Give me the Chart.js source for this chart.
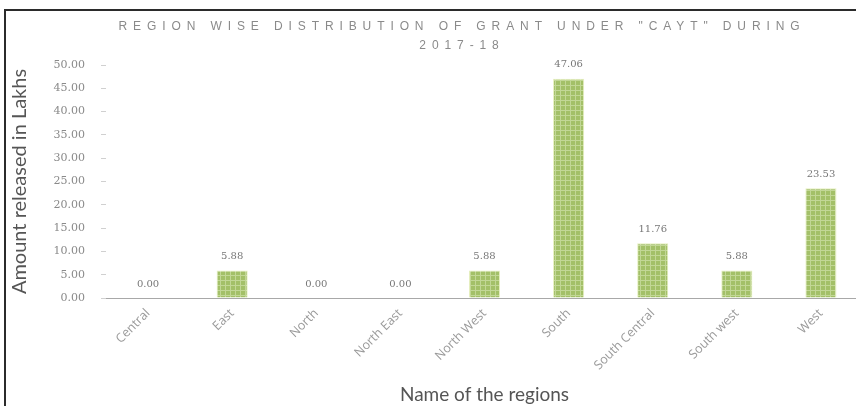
<!DOCTYPE html>
<html>
<head>
<meta charset="utf-8">
<script src="https://cdn.jsdelivr.net/npm/chart.js@4"></script>
<style>
html,body{margin:0;padding:0;background:#fff;overflow:hidden}
#wrap{position:relative;width:856px;height:406px;overflow:hidden}
#frame{position:absolute;left:4px;top:9px;width:900px;height:420px;border:2px solid #2b2b2b}
#c{position:absolute;left:0;top:0}
</style>
</head>
<body>
<div id="wrap">
  <div id="frame"></div>
  <canvas id="c" width="880" height="406"></canvas>
</div>
<script>
// ── data ──
const regions=['Central','East','North','North East','North West','South','South Central','South west','West'];
const amounts=[0.00,5.88,0.00,0.00,5.88,47.06,11.76,5.88,23.53];
const yTicks=[0,5,10,15,20,25,30,35,40,45,50];
const titleLines=['REGION WISE DISTRIBUTION OF GRANT UNDER "CAYT" DURING','2017-18'];

// small grid texture like the excel fill
function barPattern(){
  const p=document.createElement('canvas');p.width=5;p.height=5;
  const g=p.getContext('2d');
  g.fillStyle='#a3c068';g.fillRect(0,0,5,5);
  g.fillStyle='#c2d796';g.fillRect(0,0,5,1);g.fillRect(0,0,1,5);
  return g.createPattern(p,'repeat');
}

// title with letter spacing (Chart.js title has no letterSpacing option)
const spacedTitle={
  id:'spacedTitle',
  afterDraw(chart,args,opts){
    const ctx=chart.ctx;
    ctx.save();
    ctx.font='12px "Liberation Sans", Arial, sans-serif';
    ctx.fillStyle='#8a8a8a';
    ctx.textAlign='center';ctx.textBaseline='middle';
    try{ctx.letterSpacing='5.9px';}catch(e){}
    opts.lines.forEach((t,i)=>ctx.fillText(t,opts.x,opts.y+i*19));
    ctx.restore();
  }
};

// value labels above each bar
const valueLabels={
  id:'valueLabels',
  afterDatasetsDraw(chart){
    const ctx=chart.ctx;
    ctx.save();
    ctx.font='10px "DejaVu Serif", serif';
    ctx.fillStyle='#777';
    ctx.textAlign='center';ctx.textBaseline='middle';
    chart.getDatasetMeta(0).data.forEach((bar,i)=>{
      ctx.fillText(amounts[i].toFixed(2),bar.x,bar.y-14);
    });
    ctx.restore();
  }
};

new Chart(document.getElementById('c'),{
  type:'bar',
  data:{labels:regions,datasets:[{
    data:amounts,
    backgroundColor:barPattern(),
    borderColor:'rgba(228,238,185,0.9)',
    borderWidth:1,
    barPercentage:0.37,
    categoryPercentage:1
  }]},
  options:{
    responsive:false,
    animation:false,
    layout:{padding:{top:65,right:17,left:0,bottom:0}},
    plugins:{
      legend:{display:false},
      tooltip:{enabled:false},
      spacedTitle:{lines:titleLines,x:462,y:27}
    },
    scales:{
      x:{
        grid:{display:false},
        border:{display:true,color:'#a8a8a8',width:1},
        ticks:{color:'#9a9a9a',font:{size:12.5,family:'"Open Sans", sans-serif'},maxRotation:45,minRotation:45,autoSkip:false,padding:0},
        title:{display:true,text:'Name of the regions',color:'#555',font:{size:19,family:'Lato, "Open Sans", sans-serif'},padding:{top:0,bottom:0}},
        afterFit:s=>{s.height=108;}
      },
      y:{
        min:0,max:50,
        afterBuildTicks:s=>{s.ticks=yTicks.map(v=>({value:v}));},
        border:{display:false},
        grid:{drawOnChartArea:false,drawTicks:true,tickLength:5,tickColor:'#d0d0d0'},
        ticks:{color:'#8a8a8a',font:{size:11,family:'"DejaVu Serif", serif'},padding:16,callback:v=>v.toFixed(2)},
        title:{display:true,text:'Amount released in Lakhs',color:'#555',font:{size:20,family:'Lato, "Open Sans", sans-serif'},padding:{top:8,bottom:0}},
        afterFit:s=>{s.width=106;}
      }
    }
  },
  plugins:[spacedTitle,valueLabels]
});
</script>
</body>
</html>
